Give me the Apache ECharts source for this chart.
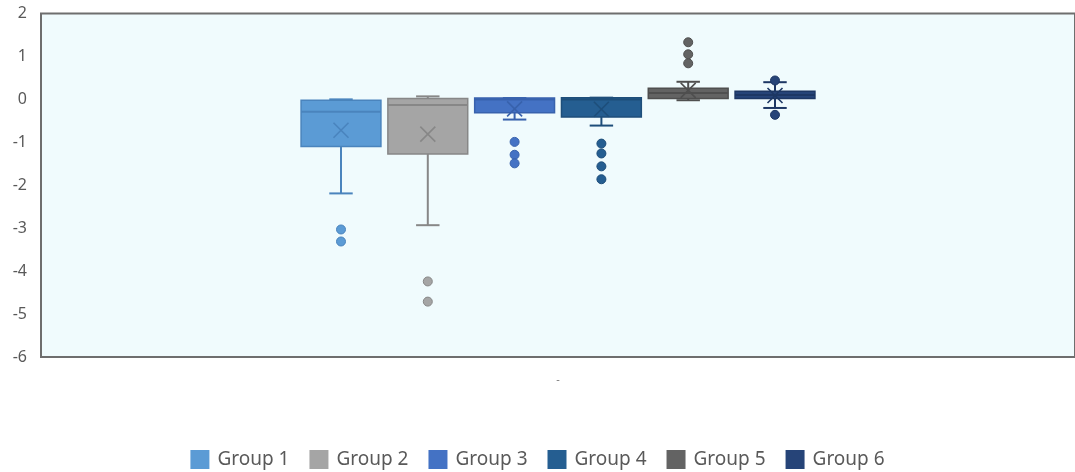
<!DOCTYPE html>
<html>
<head>
<meta charset="utf-8">
<script src="https://cdn.jsdelivr.net/npm/echarts@6/dist/echarts.min.js"></script>
<style>
  html, body { margin: 0; padding: 0; background: #ffffff; }
  #chart { width: 1075px; height: 472px; }
</style>
</head>
<body>
<div id="chart"></div>
<script>
// ---- data ----
const axisCategories = ['-'];
const groups = ['Group 1', 'Group 2', 'Group 3', 'Group 4', 'Group 5', 'Group 6'];
const whiskerLow  = [-2.19, -2.93, -0.47, -0.61, -0.02, -0.20];
const quartile1   = [-1.10, -1.27, -0.31, -0.41,  0.02,  0.02];
const medians     = [-0.29, -0.13,  0.00,  0.00,  0.15,  0.10];
const quartile3   = [-0.02,  0.02,  0.03,  0.04,  0.26,  0.19];
const whiskerHigh = [ 0.00,  0.07,  0.03,  0.04,  0.41,  0.40];
const means       = [-0.72, -0.81, -0.22, -0.23,  0.21,  0.09];
const outliers = [
  [-3.03, -3.31],
  [-4.24, -4.71],
  [-0.99, -1.29, -1.49],
  [-1.03, -1.26, -1.56, -1.86],
  [1.33, 1.05, 0.84],
  [0.44, -0.36]
];
const yTicks = { min: -6, max: 2, interval: 1 };

// ---- styles ----
const fills   = ['#5b9bd5', '#a5a5a5', '#4472c4', '#255e91', '#636363', '#264478'];
const strokes = ['#4a84bd', '#878787', '#3862ad', '#1e4e7a', '#4f4f4f', '#1d3764'];
const FONT = '"Noto Sans", "Open Sans", sans-serif';

function renderBox(params, api) {
  const x = api.value(0);
  const lo = api.coord([x, api.value(1)]);
  const q1 = api.coord([x, api.value(2)]);
  const md = api.coord([x, api.value(3)]);
  const q3 = api.coord([x, api.value(4)]);
  const hi = api.coord([x, api.value(5)]);
  const mn = api.coord([x, api.value(6)]);
  const band = api.size([1, 0])[0];
  const boxW = band * 0.92;
  const capW = band * 0.27;
  const xs = 7.5;
  const cx = q1[0];
  const gi = Math.floor(params.seriesIndex / 2);
  const stroke = strokes[gi];
  const fill = fills[gi];
  const lineStyle = { stroke: stroke, lineWidth: 2, fill: null };
  return {
    type: 'group',
    children: [
      { type: 'rect', shape: { x: cx - boxW / 2, y: q3[1], width: boxW, height: q1[1] - q3[1] },
        style: { fill: fill, stroke: stroke, lineWidth: 1.5 } },
      { type: 'line', shape: { x1: cx - boxW / 2, y1: md[1], x2: cx + boxW / 2, y2: md[1] }, style: lineStyle },
      { type: 'line', shape: { x1: cx, y1: q1[1], x2: cx, y2: lo[1] }, style: lineStyle },
      { type: 'line', shape: { x1: cx, y1: q3[1], x2: cx, y2: hi[1] }, style: lineStyle },
      { type: 'line', shape: { x1: cx - capW / 2, y1: lo[1], x2: cx + capW / 2, y2: lo[1] }, style: lineStyle },
      { type: 'line', shape: { x1: cx - capW / 2, y1: hi[1], x2: cx + capW / 2, y2: hi[1] }, style: lineStyle },
      { type: 'line', shape: { x1: cx - xs, y1: mn[1] - xs, x2: cx + xs, y2: mn[1] + xs },
        style: { stroke: stroke, lineWidth: 1.6 } },
      { type: 'line', shape: { x1: cx - xs, y1: mn[1] + xs, x2: cx + xs, y2: mn[1] - xs },
        style: { stroke: stroke, lineWidth: 1.6 } }
    ]
  };
}

const series = [];
groups.forEach(function (g, i) {
  series.push({
    name: g,
    type: 'custom',
    xAxisIndex: 1,
    yAxisIndex: 1,
    itemStyle: { color: fills[i] },
    encode: { x: 0, y: [1, 2, 3, 4, 5, 6] },
    data: [[i, whiskerLow[i], quartile1[i], medians[i], quartile3[i], whiskerHigh[i], means[i]]],
    renderItem: renderBox,
    z: 2
  });
  series.push({
    name: g,
    type: 'scatter',
    xAxisIndex: 1,
    yAxisIndex: 1,
    symbol: 'circle',
    symbolSize: 9,
    itemStyle: { color: fills[i], borderColor: strokes[i], borderWidth: 1, opacity: 1 },
    data: outliers[i].map(function (v) { return [i, v]; }),
    z: 3
  });
});

const chart = echarts.init(document.getElementById('chart'), null, { renderer: 'canvas' });
chart.setOption({
  animation: false,
  backgroundColor: '#ffffff',
  textStyle: { fontFamily: FONT },
  grid: [
    { left: 41, right: -3, top: 13.5, bottom: 115, show: true,
      backgroundColor: '#f0fbfd', borderColor: '#6e6e6e', borderWidth: 2 },
    { left: 297.6, right: 256.6, top: 13.5, bottom: 115 }
  ],
  xAxis: [
    { type: 'category', gridIndex: 0, data: axisCategories,
      axisLine: { show: false }, axisTick: { show: false }, splitLine: { show: false },
      axisLabel: { fontSize: 11, color: '#777777', margin: 17, fontFamily: FONT } },
    { type: 'category', gridIndex: 1, data: groups, show: false }
  ],
  yAxis: [
    { type: 'value', gridIndex: 0, min: yTicks.min, max: yTicks.max, interval: yTicks.interval,
      axisLine: { show: false }, axisTick: { show: false }, splitLine: { show: false },
      axisLabel: { fontSize: 16, color: '#595959', margin: 14, fontFamily: FONT, padding: [4, 0, 0, 0] } },
    { type: 'value', gridIndex: 1, min: yTicks.min, max: yTicks.max, interval: yTicks.interval, show: false }
  ],
  legend: {
    data: groups,
    bottom: -2,
    left: 'center',
    icon: 'rect',
    itemWidth: 19,
    itemHeight: 19,
    itemGap: 20,
    textStyle: { fontSize: 19, color: '#595959', fontFamily: FONT, padding: [0, 0, 0, 3] }
  },
  series: series
});
</script>
</body>
</html>
